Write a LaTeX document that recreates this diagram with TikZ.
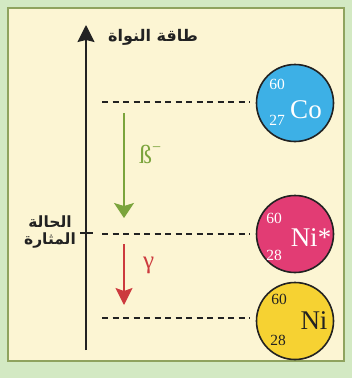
\documentclass[tikz,border=0pt]{standalone}
\usepackage{fontspec}
\usetikzlibrary{arrows.meta}
\TeXXeTstate=1
\newfontfamily\arabicfont[Script=Arabic]{DejaVu Sans}
\newfontfamily\tnr{Liberation Serif}
\definecolor{outerbg}{HTML}{D3E9C3}
\definecolor{innerbg}{HTML}{FCF5D3}
\definecolor{framec}{HTML}{8FA35E}
\definecolor{cob}{HTML}{3DB0E6}
\definecolor{nipink}{HTML}{E23C74}
\definecolor{niyel}{HTML}{F6D232}
\definecolor{betag}{HTML}{7BA43C}
\definecolor{gamr}{HTML}{CC3A3E}
\definecolor{ink}{HTML}{222222}
\tikzset{
  atom/.style={circle, draw=ink, line width=1.6pt, minimum size=77pt, inner sep=0pt},
  level/.style={draw=ink, line width=1.3pt, dash pattern=on 6pt off 4.5pt},
  axisline/.style={draw=ink, line width=1.4pt},
  decay/.style={line width=1.6pt},
  arlabel/.style={font=\arabicfont\bfseries\fontsize{16}{19}\selectfont, text=ink, inner sep=0pt},
  num/.style={font=\tnr\fontsize{15.5}{15.5}\selectfont, inner sep=0pt},
  sym/.style={font=\tnr\fontsize{27}{27}\selectfont, inner sep=0pt}
}
\begin{document}
\begin{tikzpicture}[x=1pt,y=-1pt]
\useasboundingbox (0,0) rectangle (352,378);
\fill[outerbg] (0,0) rectangle (352,378);
\filldraw[fill=innerbg, draw=framec, line width=1.6pt] (8,8) rectangle (344,361);
% atoms
\node[atom, fill=cob] (co) at (295,103) {};
\node[atom, fill=nipink] (nis) at (295,234) {};
\node[atom, fill=niyel] (ni) at (295,321) {};
% atom labels
\node[num, text=white] (co60) at (277,84) {60};
\node[num, text=white] (co27) at (277,120) {27};
\node[sym, text=white] (cos) at (306,110) {Co};
\node[num, text=white] (ni60a) at (274,218) {60};
\node[num, text=white] (ni28a) at (274,255) {28};
\node[sym, text=white] (nissym) at (311,238) {Ni*};
\node[num, text=ink] (ni60b) at (279,299) {60};
\node[num, text=ink] (ni28b) at (278,340) {28};
\node[sym, text=ink] (nisym) at (314,321) {Ni};
% levels
\coordinate (l1) at (102,102);
\coordinate (l2) at (102,234);
\coordinate (l3) at (102,318);
\draw[level, shorten >=6pt] (l1) -- (l1 -| co.west);
\draw[level, shorten >=6pt] (l2) -- (l2 -| nis.west);
\draw[level, shorten >=6pt] (l3) -- (l3 -| ni.west);
% axis
\coordinate (a0) at (86,350);
\coordinate (a1) at (86,25);
\draw[axisline, -{Stealth[length=17pt,width=17pt,inset=2pt]}] (a0) -- (a1);
\coordinate (t0) at (80,233);
\coordinate (t1) at (93,233);
\draw[axisline] (t0) -- (t1);
\node[arlabel, anchor=west] (title) at (108,37) {\beginR طاقة النواة\endR};
\node[arlabel, font=\arabicfont\bfseries\fontsize{15.5}{18}\selectfont, align=center] (exc) at (50,232) {\beginR الحالة\endR\\[-1pt]\beginR المثارة\endR};
% decays
\coordinate (b0) at (124,113);
\coordinate (b1) at (124,218);
\draw[decay, draw=betag, -{Stealth[length=15pt,width=20pt,inset=3pt]}] (b0) -- (b1);
\node[font=\tnr\fontsize{26}{26}\selectfont, text=betag, inner sep=0pt, anchor=base west] (beta) at (139,163) {ß\raisebox{11pt}{\fontsize{16}{16}\selectfont −}};
\coordinate (g0) at (124,244);
\coordinate (g1) at (124,305);
\draw[decay, draw=gamr, -{Stealth[length=17pt,width=17pt,inset=3pt]}] (g0) -- (g1);
\node[font=\tnr\fontsize{25}{25}\selectfont, text=gamr, inner sep=0pt, anchor=base west] (gam) at (143,268) {γ};
\end{tikzpicture}
\end{document}
